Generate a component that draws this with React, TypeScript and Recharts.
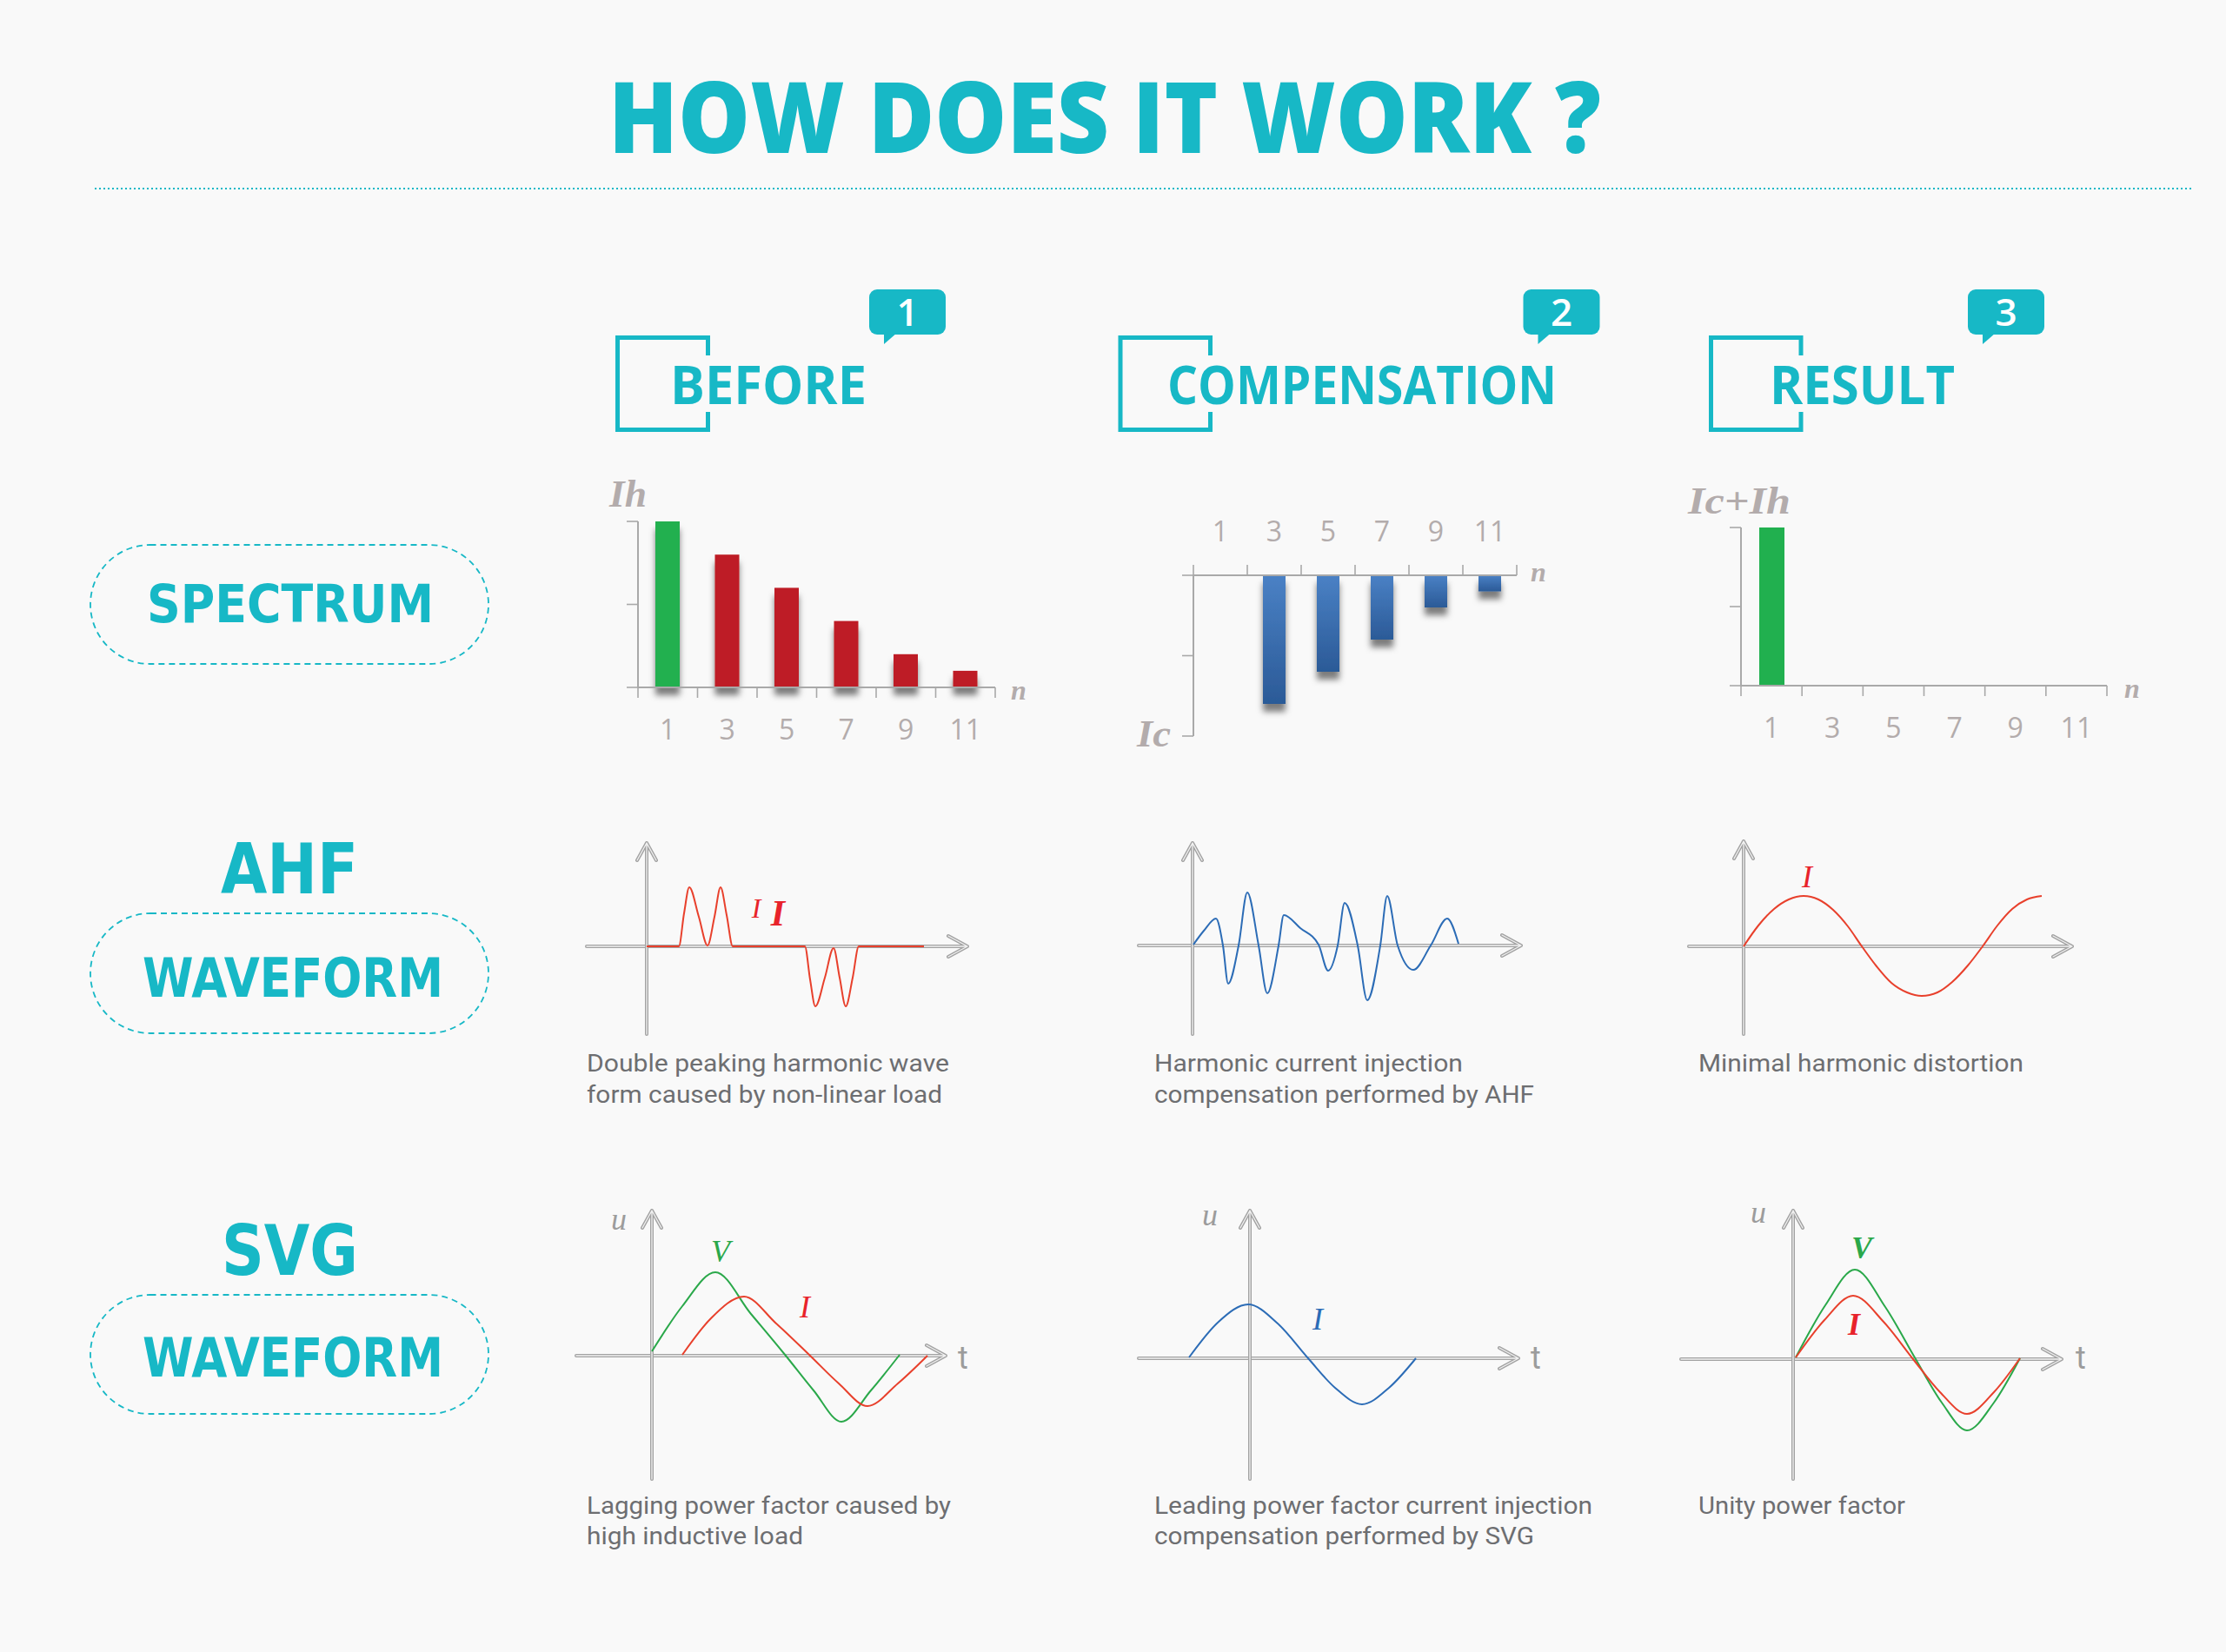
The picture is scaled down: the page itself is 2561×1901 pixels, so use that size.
import React from 'react';
import { BarChart, Bar, Cell, XAxis, YAxis, LineChart, Line, ReferenceLine } from 'recharts';

// ---------------- data ----------------
const harmonicOrder = [1, 3, 5, 7, 9, 11];
const beforeIh = [100, 80, 60, 40, 20, 10];
const compensationIc = [0, -80, -60, -40, -20, -10];
const resultIcIh = [100, 0, 0, 0, 0, 0];
const beforeColors = ['#21b04f', '#be1e27', '#be1e27', '#be1e27', '#be1e27', '#be1e27'];
const spectrumTicks = [0, 1, 2, 3, 4, 5, 6, 7, 8, 9, 10, 11, 12];
const positiveYTicks = [0, 50, 100];
const negativeYTicks = [-100, -50, 0];

// AHF waveforms (t = time offset, v = amplitude)
const ahfBeforeT = [0, 37, 43, 49, 60, 70, 78, 85, 92, 99, 182, 188, 194, 205, 215, 222, 229, 237, 244, 319];
const ahfBeforeI = [0, 0, 38, 68, 34, 1, 34, 68, 36, 0, 0, -38, -69, -36, -2, -36, -69, -36, 0, 0];
const ahfCompT = [1, 13, 27, 35, 41, 53, 63, 76, 86, 99, 105, 124, 145, 156, 167, 175, 190, 201, 216, 224, 236, 254, 274, 293, 306];
const ahfCompI = [1, 17, 31, 0, -44, 0, 61, 0, -55, 0, 35, 20, 1, -29, 0, 49, 0, -63, 0, 57, 0, -28, 0, 31, 2];
const ahfResultT = [0, 17, 35, 52, 69, 86, 103, 120, 136, 153, 170, 188, 205, 223, 240, 258, 275, 292, 309, 326, 343];
const ahfResultI = [0, 24, 43, 54, 58, 54, 42, 23, 0, -23, -42, -53, -57, -53, -41, -22, 0, 24, 43, 54, 58];

// SVG waveforms
const svgBeforeVT = [0, 35, 73, 114, 154, 186, 218, 252, 285];
const svgBeforeV = [5, 57, 96, 48, 0, -40, -76, -40, 1];
const svgBeforeIT = [35, 68, 106, 143, 182, 215, 248, 283, 317];
const svgBeforeI = [1, 43, 68, 37, 0, -32, -58, -32, 0];
const svgCompIT = [-70, -36, -2, 32, 67, 98, 129, 160, 191];
const svgCompI = [1, 42, 62, 40, 0, -34, -53, -34, 0];
const svgResultVT = [3, 37, 71, 106, 141, 171, 200, 231, 261];
const svgResultV = [2, 62, 103, 60, 0, -50, -82, -50, 1];
const svgResultIT = [3, 36, 69, 104, 138, 169, 200, 231, 261];
const svgResultI = [2, 45, 73, 43, 0, -38, -63, -38, 1];

const headerTitles = ['BEFORE', 'COMPENSATION', 'RESULT'];
const badgeNumbers = ['1', '2', '3'];
const rowTitles = ['SPECTRUM', 'AHF', 'WAVEFORM', 'SVG', 'WAVEFORM'];
const captionTexts = [
  'Double peaking harmonic wave',
  'form caused by non-linear load',
  'Harmonic current injection',
  'compensation performed by AHF',
  'Minimal harmonic distortion',
  'Lagging power factor caused by',
  'high inductive load',
  'Leading power factor current injection',
  'compensation performed by SVG',
  'Unity power factor',
];

// ---------------- styles ----------------
const TEAL = '#17b8c6';
const AXIS_GRAY = '#a9a9a9';
const LABEL_GRAY = '#b3acac';
const CAPTION_GRAY = '#6d6e71';
const RED = '#e8402c';
const GREEN = '#2aa84a';
const BLUE = '#2c6cb6';

const toRows = (xs: number[], vs: number[]) => xs.map((t, i) => ({ t, v: vs[i] }));
const barRows = (vals: number[]) => harmonicOrder.map((n, i) => ({ n, v: vals[i] }));

const BottomTick = (props: any) => {
  const { x, y, payload } = props;
  const v = payload.value;
  if (v % 2 === 0) return <line x1={x} y1={y} x2={x} y2={y + 12} stroke={AXIS_GRAY} strokeWidth={1.6} />;
  return (
    <text x={x} y={y + 60} textAnchor="middle" fontSize={32} fontFamily="'Open Sans', sans-serif" fill={LABEL_GRAY}>
      {v}
    </text>
  );
};
const TopTick = (props: any) => {
  const { x, y, payload } = props;
  const v = payload.value;
  if (v % 2 === 0) return <line x1={x} y1={y} x2={x} y2={y - 12} stroke={AXIS_GRAY} strokeWidth={1.6} />;
  return (
    <text x={x} y={y - 39} textAnchor="middle" fontSize={32} fontFamily="'Open Sans', sans-serif" fill={LABEL_GRAY}>
      {v}
    </text>
  );
};
const LeftTick = (props: any) => {
  const { x, y } = props;
  return <line x1={x} y1={y} x2={x - 13} y2={y} stroke={AXIS_GRAY} strokeWidth={1.6} />;
};

const ShadowBar = (props: any) => {
  const { x, y, width, height, fill } = props;
  if (!height || Math.abs(height) < 0.5) return <g />;
  const top = height < 0 ? y + height : y;
  return <rect x={x} y={top} width={width} height={Math.abs(height)} fill={fill} filter="url(#barShadow)" />;
};

const hollow = (d: string) => (
  <g>
    <path d={d} fill="none" stroke="#a2a2a2" strokeWidth={4} strokeLinecap="round" strokeLinejoin="round" />
    <path d={d} fill="none" stroke="#f1f1f1" strokeWidth={1.3} strokeLinecap="round" strokeLinejoin="round" />
  </g>
);
const HArrow = (p: any) => {
  const { x1, y1, x2, y2 } = p;
  return hollow(`M${x1},${y1}L${x2},${y2}M${x2 - 22},${y2 - 12}L${x2},${y2}L${x2 - 22},${y2 + 12}`);
};
const VArrow = (p: any) => {
  const { x1, y1, x2, y2 } = p;
  return hollow(`M${x1},${y1}L${x2},${y2}M${x2 - 11},${y2 + 20}L${x2},${y2}L${x2 + 11},${y2 + 20}`);
};

type WaveLine = { data: { t: number; v: number }[]; color: string };
const WavePanel = ({ left, top, xDomain, yDomain, xAxisExt, yAxisExt, lines }: {
  left: number; top: number; xDomain: number[]; yDomain: number[]; xAxisExt: number[]; yAxisExt: number[]; lines: WaveLine[];
}) => (
  <div style={{ position: 'absolute', left, top }}>
    <LineChart width={xDomain[1] - xDomain[0]} height={yDomain[1] - yDomain[0]} margin={{ top: 0, right: 0, bottom: 0, left: 0 }}>
      <XAxis type="number" dataKey="t" domain={xDomain} hide allowDataOverflow />
      <YAxis type="number" domain={yDomain} hide allowDataOverflow />
      <ReferenceLine segment={[{ x: xAxisExt[0], y: 0 }, { x: xAxisExt[1], y: 0 }]} shape={HArrow} ifOverflow="visible" />
      <ReferenceLine segment={[{ x: 0, y: yAxisExt[0] }, { x: 0, y: yAxisExt[1] }]} shape={VArrow} ifOverflow="visible" />
      {lines.map((l, i) => (
        <Line key={i} data={l.data} dataKey="v" type="monotone" stroke={l.color} strokeWidth={2} dot={false} isAnimationActive={false} />
      ))}
    </LineChart>
  </div>
);

const serifLabel = (x: number, y: number, text: string, size: number, fill: string, bold = true, anchor: any = 'start', len?: number) => (
  <text x={x} y={y} fontSize={size} fontFamily="'Liberation Serif', 'DejaVu Serif', serif" fontStyle="italic" fontWeight={bold ? 700 : 400}
    fill={fill} textAnchor={anchor} {...(len ? { textLength: len, lengthAdjust: 'spacingAndGlyphs' } : {})}>
    {text}
  </text>
);

const Bracket = ({ xl, xr }: { xl: number; xr: number }) => {
  const l = xl + 2.5, r = xr - 2.5, t = 388.5, b = 494.5;
  return <path d={`M${r},409 L${r},${t} L${l},${t} L${l},${b} L${r},${b} L${r},474`} fill="none" stroke={TEAL} strokeWidth={5} />;
};
const Badge = ({ x, label }: { x: number; label: string }) => (
  <g>
    <rect x={x} y={333} width={88} height={52} rx={9} fill={TEAL} />
    <polygon points={`${x + 17},383 ${x + 32},383 ${x + 17},396`} fill={TEAL} />
    <text x={x + 44} y={375} textAnchor="middle" fontSize={44} fontWeight={600} fontFamily="'Open Sans', sans-serif" fill="#ffffff">{label}</text>
  </g>
);
const Pill = ({ y, h }: { y: number; h: number }) => (
  <rect x={104} y={y} width={458} height={h} rx={h / 2} fill="none" stroke={TEAL} strokeWidth={1.8} strokeDasharray="7 5" />
);
const wideText = (x: number, y: number, text: string, size: number, len: number) => (
  <text x={x} y={y} fontSize={size} fontFamily="'DejaVu Sans', sans-serif" fontWeight={700} fill={TEAL} textLength={len} lengthAdjust="spacingAndGlyphs">{text}</text>
);
const caption = (x: number, y: number, text: string, len: number) => (
  <text x={x} y={y} fontSize={28} fontFamily="Roboto, sans-serif" fill={CAPTION_GRAY} textLength={len} lengthAdjust="spacingAndGlyphs">{text}</text>
);

export default function App() {
  return (
    <div style={{ position: 'absolute', left: 0, top: 0, width: 2561, height: 1901, background: '#f9f9f9', overflow: 'hidden' }}>
      <svg width={2561} height={1901} style={{ position: 'absolute', left: 0, top: 0 }}>
        <defs>
          <filter id="barShadow" x="-40%" y="-50%" width="180%" height="300%">
            <feDropShadow dx="0" dy="9" stdDeviation="3.5" floodColor="#000" floodOpacity="0.5" />
          </filter>
          <linearGradient id="blueGrad" x1="0" y1="0" x2="0" y2="1">
            <stop offset="0%" stopColor="#4a81c5" />
            <stop offset="100%" stopColor="#2b5a97" />
          </linearGradient>
        </defs>

        {/* title */}
        <text x={700} y={176} fontSize={113} fontWeight={800} fontFamily="'Open Sans', sans-serif" fill={TEAL} textLength={1142} lengthAdjust="spacingAndGlyphs">HOW DOES IT WORK ?</text>
        <line x1={109} y1={217} x2={2521} y2={217} stroke={TEAL} strokeWidth={2} strokeDasharray="2 3" />

        {/* headers */}
        <Bracket xl={708} xr={817} />
        <Bracket xl={1286.5} xr={1395} />
        <Bracket xl={1966} xr={2074.5} />
        <text x={771} y={465} fontSize={60} fontWeight={700} fontFamily="'Open Sans', sans-serif" fill={TEAL} textLength={226} lengthAdjust="spacingAndGlyphs">{headerTitles[0]}</text>
        <text x={1343} y={465} fontSize={60} fontWeight={700} fontFamily="'Open Sans', sans-serif" fill={TEAL} textLength={448} lengthAdjust="spacingAndGlyphs">{headerTitles[1]}</text>
        <text x={2036} y={465} fontSize={60} fontWeight={700} fontFamily="'Open Sans', sans-serif" fill={TEAL} textLength={213} lengthAdjust="spacingAndGlyphs">{headerTitles[2]}</text>
        <Badge x={1000} label={badgeNumbers[0]} />
        <Badge x={1752.5} label={badgeNumbers[1]} />
        <Badge x={2264} label={badgeNumbers[2]} />

        {/* row titles */}
        <Pill y={627} h={137} />
        <Pill y={1051} h={138} />
        <Pill y={1490} h={137} />
        {wideText(169, 716, rowTitles[0], 60, 330)}
        {wideText(254, 1028, rowTitles[1], 81, 158)}
        {wideText(164, 1147, rowTitles[2], 63, 346)}
        {wideText(255, 1467, rowTitles[3], 81, 157)}
        {wideText(164, 1584, rowTitles[4], 63, 346)}

        {/* spectrum axis labels */}
        {serifLabel(701, 583, 'Ih', 45, LABEL_GRAY, true, 'start', 43)}
        {serifLabel(1308, 859, 'Ic', 45, LABEL_GRAY, true, 'start', 39)}
        {serifLabel(1942, 591, 'Ic+Ih', 45, LABEL_GRAY, true, 'start', 118)}
        {serifLabel(1163, 805, 'n', 32, LABEL_GRAY, true)}
        {serifLabel(1761, 669, 'n', 32, LABEL_GRAY, true)}
        {serifLabel(2444, 803, 'n', 32, LABEL_GRAY, true)}

        {/* waveform labels */}
        {serifLabel(870, 1056, 'I', 32, '#e8232b', false, 'middle')}
        {serifLabel(895, 1065, 'I', 42, '#e8232b', true, 'middle')}
        {serifLabel(2079, 1021, 'I', 36, '#e8232b', false, 'middle')}
        {serifLabel(829, 1452, 'V', 36, GREEN, false, 'middle')}
        {serifLabel(926, 1516, 'I', 36, '#e8232b', false, 'middle')}
        {serifLabel(1516, 1530, 'I', 36, BLUE, false, 'middle')}
        {serifLabel(2142, 1448, 'V', 36, GREEN, true, 'middle')}
        {serifLabel(2133, 1536, 'I', 36, '#e8232b', true, 'middle')}
        {serifLabel(712, 1415, 'u', 36, '#9c9c9c', false, 'middle')}
        {serifLabel(1392, 1410, 'u', 36, '#9c9c9c', false, 'middle')}
        {serifLabel(2023, 1407, 'u', 36, '#9c9c9c', false, 'middle')}
        <text x={1102} y={1575} fontSize={36} fontFamily="Roboto, sans-serif" fill="#9c9c9c">t</text>
        <text x={1761} y={1575} fontSize={36} fontFamily="Roboto, sans-serif" fill="#9c9c9c">t</text>
        <text x={2388} y={1575} fontSize={36} fontFamily="Roboto, sans-serif" fill="#9c9c9c">t</text>

        {/* captions */}
        {caption(675, 1233, captionTexts[0], 417)}
        {caption(675, 1269, captionTexts[1], 409)}
        {caption(1328, 1233, captionTexts[2], 355)}
        {caption(1328, 1269, captionTexts[3], 437)}
        {caption(1954, 1233, captionTexts[4], 374)}
        {caption(675, 1742, captionTexts[5], 419)}
        {caption(675, 1777, captionTexts[6], 249)}
        {caption(1328, 1742, captionTexts[7], 504)}
        {caption(1328, 1777, captionTexts[8], 437)}
        {caption(1954, 1742, captionTexts[9], 238)}
      </svg>

      {/* spectrum: before */}
      <div style={{ position: 'absolute', left: 694, top: 590 }}>
        <BarChart width={511} height={281} data={barRows(beforeIh)} margin={{ top: 10, right: 60, bottom: 0, left: 0 }}>
          <XAxis dataKey="n" type="number" domain={[0, 12]} ticks={spectrumTicks} interval={0} tickLine={false} tickSize={0} tickMargin={0}
            tick={BottomTick} axisLine={{ stroke: AXIS_GRAY, strokeWidth: 2 }} height={80} />
          <YAxis type="number" domain={[0, 100]} ticks={positiveYTicks} interval={0} tickLine={false} tickSize={0} tickMargin={0}
            tick={LeftTick} axisLine={{ stroke: AXIS_GRAY, strokeWidth: 2 }} width={40} />
          <Bar dataKey="v" barSize={28} shape={ShadowBar} isAnimationActive={false}>
            {beforeColors.map((c, i) => <Cell key={i} fill={c} />)}
          </Bar>
        </BarChart>
      </div>

      {/* spectrum: compensation */}
      <div style={{ position: 'absolute', left: 1333, top: 567 }}>
        <BarChart width={472} height={290} data={barRows(compensationIc)} margin={{ top: 0, right: 60, bottom: 10, left: 0 }}>
          <XAxis dataKey="n" type="number" orientation="top" domain={[0, 12]} ticks={spectrumTicks} interval={0} tickLine={false} tickSize={0} tickMargin={0}
            tick={TopTick} axisLine={{ stroke: AXIS_GRAY, strokeWidth: 2 }} height={95} />
          <YAxis type="number" domain={[-100, 0]} ticks={negativeYTicks} interval={0} tickLine={false} tickSize={0} tickMargin={0}
            tick={LeftTick} axisLine={{ stroke: AXIS_GRAY, strokeWidth: 2 }} width={40} />
          <Bar dataKey="v" barSize={26} fill="url(#blueGrad)" shape={ShadowBar} isAnimationActive={false} />
        </BarChart>
      </div>

      {/* spectrum: result */}
      <div style={{ position: 'absolute', left: 1963, top: 597 }}>
        <BarChart width={521} height={272} data={barRows(resultIcIh)} margin={{ top: 10, right: 60, bottom: 0, left: 0 }}>
          <XAxis dataKey="n" type="number" domain={[0, 12]} ticks={spectrumTicks} interval={0} tickLine={false} tickSize={0} tickMargin={0}
            tick={BottomTick} axisLine={{ stroke: AXIS_GRAY, strokeWidth: 2 }} height={80} />
          <YAxis type="number" domain={[0, 100]} ticks={positiveYTicks} interval={0} tickLine={false} tickSize={0} tickMargin={0}
            tick={LeftTick} axisLine={{ stroke: AXIS_GRAY, strokeWidth: 2 }} width={40} />
          <Bar dataKey="v" barSize={29} fill="#21b04f" isAnimationActive={false} />
        </BarChart>
      </div>

      {/* AHF waveforms */}
      <WavePanel left={665} top={960} xDomain={[-79, 381]} yDomain={[-111, 129]} xAxisExt={[-69, 369]} yAxisExt={[-101, 119]}
        lines={[{ data: toRows(ahfBeforeT, ahfBeforeI), color: RED }]} />
      <WavePanel left={1300} top={960} xDomain={[-72, 388]} yDomain={[-112, 128]} xAxisExt={[-62, 378]} yAxisExt={[-102, 118]}
        lines={[{ data: toRows(ahfCompT, ahfCompI), color: BLUE }]} />
      <WavePanel left={1933} top={958} xDomain={[-73, 388]} yDomain={[-111, 131]} xAxisExt={[-63, 378]} yAxisExt={[-101, 121]}
        lines={[{ data: toRows(ahfResultT, ahfResultI), color: RED }]} />

      {/* SVG waveforms */}
      <WavePanel left={653} top={1383} xDomain={[-97, 348]} yDomain={[-152, 177]} xAxisExt={[-87, 338]} yAxisExt={[-142, 167]}
        lines={[{ data: toRows(svgBeforeVT, svgBeforeV), color: GREEN }, { data: toRows(svgBeforeIT, svgBeforeI), color: RED }]} />
      <WavePanel left={1300} top={1383} xDomain={[-138, 319]} yDomain={[-149, 180]} xAxisExt={[-128, 309]} yAxisExt={[-139, 170]}
        lines={[{ data: toRows(svgCompIT, svgCompI), color: BLUE }]} />
      <WavePanel left={1924} top={1383} xDomain={[-139, 319]} yDomain={[-148, 181]} xAxisExt={[-129, 309]} yAxisExt={[-138, 171]}
        lines={[{ data: toRows(svgResultVT, svgResultV), color: GREEN }, { data: toRows(svgResultIT, svgResultI), color: RED }]} />
    </div>
  );
}
